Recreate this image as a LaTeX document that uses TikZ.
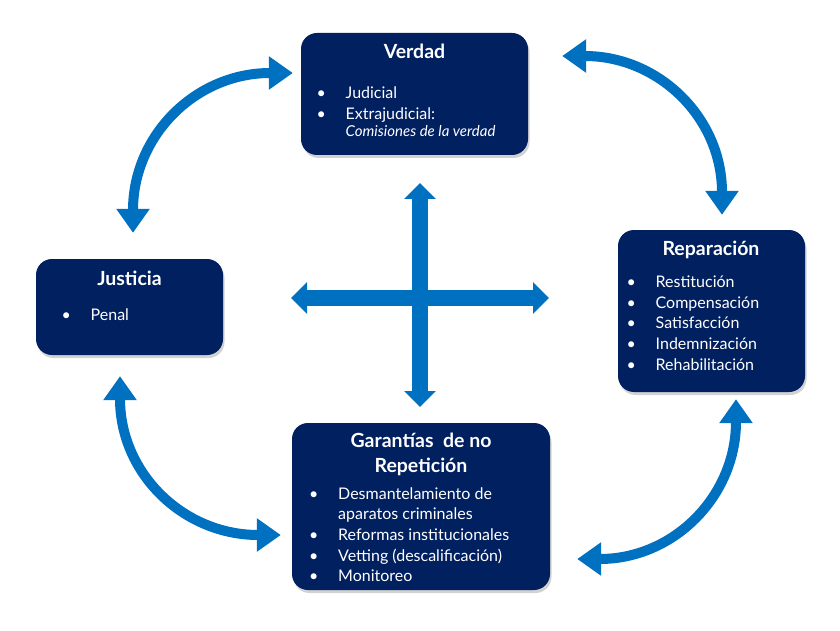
\documentclass[tikz,border=0pt]{standalone}
\usepackage{fontspec}
\setmainfont{Lato}
\usetikzlibrary{arrows.meta,calc,shadows}

\definecolor{navy}{HTML}{002060}
\definecolor{arrowblue}{HTML}{0070C0}
\newcommand{\itm}[1]{\makebox[29pt][l]{\textbullet}#1}
\newcommand{\cont}[1]{\hspace*{29pt}#1}

\begin{document}
\begin{tikzpicture}[x=1pt, y=-1pt,
    box node/.style={rectangle, rounded corners=16pt, fill=navy,
      drop shadow={shadow xshift=1.5pt, shadow yshift=-3pt, opacity=.35}},
    title node/.style={inner sep=0pt, anchor=base, text=white, align=center,
      font=\fontsize{19.5}{25.7}\selectfont\bfseries},
    list node/.style={inner sep=0pt, anchor=base west, text=white, align=left,
      font=\fontsize{16}{20.6}\selectfont},
    bend arrow/.style={draw=arrowblue, line width=10pt, looseness=1.1,
      {Triangle[width=32pt,length=24pt]}-{Triangle[width=32pt,length=24pt]}},
    cross arrow/.style={draw=arrowblue, line width=16pt,
      {Triangle[width=31pt,length=16pt]}-{Triangle[width=31pt,length=16pt]}}]

  \useasboundingbox[fill=white] (0,0) rectangle (840,631);

  % the four boxes
  \node[box node, minimum width=227pt, minimum height=122pt] (verdad) at (414.5,94) {};
  \node[box node, minimum width=187pt, minimum height=96pt] (justicia) at (129.5,307) {};
  \node[box node, minimum width=187pt, minimum height=162pt] (reparacion) at (711.5,311) {};
  \node[box node, minimum width=258pt, minimum height=167pt] (garantias) at (421,506.5) {};

  % titles and lists (base = last line)
  \node[title node] (tverdad) at (414.5,58.3) {Verdad};
  \node[list node] (lverdad) at (316.5,136.7)
    {\itm{Judicial}\\ \itm{Extrajudicial:}\\[-3pt]
     \cont{{\fontsize{15}{18}\selectfont\itshape Comisiones de la verdad}}};

  \node[title node] (tjusticia) at (129.5,285) {Justicia};
  \node[list node] (ljusticia) at (61.5,320.7) {\itm{Penal}};

  \node[title node] (treparacion) at (711,255) {Reparación};
  \node[list node] (lreparacion) at (626.5,370)
    {\itm{Restitución}\\ \itm{Compensación}\\ \itm{Satisfacción}\\
     \itm{Indemnización}\\ \itm{Rehabilitación}};

  \node[title node] (tgarantias) at (421,472.7) {Garantías\ \ de no\\Repetición};
  \node[list node] (lgarantias) at (309,581.7)
    {\itm{Desmantelamiento de}\\ \cont{aparatos criminales}\\
     \itm{Reformas institucionales}\\ \itm{Vetting (descalificación)}\\
     \itm{Monitoreo}};

  % curved arrows between the boxes
  \draw[bend arrow] ($(justicia.north)+(3.5,-26)$) to[out=90,in=180] ($(verdad.west)+(-8,-21)$);
  \draw[bend arrow] ($(verdad.east)+(34,-38)$) to[out=0,in=90] ($(reparacion.north)+(10.5,-15)$);
  \draw[bend arrow] ($(reparacion.south)+(24.5,7)$) to[out=-90,in=0] ($(garantias.east)+(27,52.5)$);
  \draw[bend arrow] ($(justicia.south)+(-9.5,21)$) to[out=-90,in=180] ($(garantias.west)+(-11,28.5)$);

  % the cross in the middle
  \coordinate (cup) at (420,183);
  \coordinate (cdown) at (420,407);
  \coordinate (cleft) at (291,298);
  \coordinate (cright) at (549,298);
  \draw[cross arrow] (cup) -- (cdown);
  \draw[cross arrow] (cleft) -- (cright);
\end{tikzpicture}
\end{document}
